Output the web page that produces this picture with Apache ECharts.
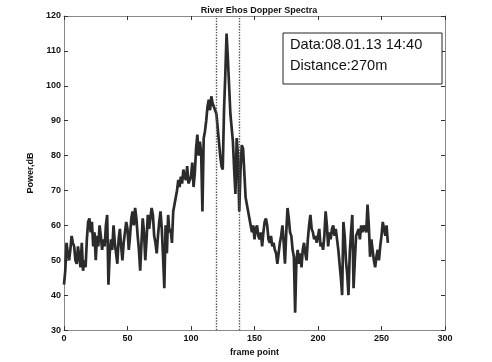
<!DOCTYPE html>
<html>
<head>
<meta charset="utf-8">
<script src="https://cdn.jsdelivr.net/npm/echarts@6/dist/echarts.min.js"></script>
<style>html,body{margin:0;padding:0;background:#fff}#c{width:492px;height:362px}</style>
</head>
<body>
<div id="c"></div>
<script>
// Power (dB) for frame points 0..255
const power = [
  43, 47, 55, 52, 50, 53, 57, 55, 54, 50,
  49, 54, 51, 48, 55, 47, 50, 48, 56, 61,
  62, 58, 61, 54, 58, 50, 57, 54, 60, 57,
  53, 56, 54, 60, 63, 43, 52, 56, 53, 60,
  55, 52, 49, 56, 59, 54, 50, 55, 58, 61,
  59, 53, 57, 62, 64, 60, 65, 62, 57, 53,
  47, 55, 62, 58, 50, 56, 63, 59, 62, 65,
  63, 57, 55, 52, 57, 61, 64, 59, 51, 42,
  60, 52, 63, 58, 59, 55, 64, 66, 68, 70,
  73, 71, 74, 72, 76, 74, 73, 77, 72, 73,
  74, 78, 71, 75, 82, 86, 80, 84, 81, 64,
  85, 87, 90, 94, 96, 93, 97, 95, 94, 93,
  92, 88, 84, 80, 77, 76, 93, 103, 115, 108,
  100, 92, 88, 84, 76, 69, 85, 80, 64, 76,
  83, 82, 75, 68, 66, 64, 62, 60, 58, 60,
  56, 59, 60, 57, 56, 58, 54, 58, 61, 62,
  60, 56, 55, 57, 54, 55, 53, 52, 49, 52,
  55, 57, 60, 55, 49, 58, 65, 62, 58, 57,
  53, 51, 35, 50, 53, 49, 52, 48, 53, 55,
  52, 50, 56, 60, 63, 59, 58, 56, 57, 55,
  57, 59, 54, 55, 53, 57, 64, 60, 54, 58,
  56, 59, 60, 57, 59, 56, 53, 49, 45, 40,
  61, 57, 50, 46, 40, 52, 58, 63, 42, 50,
  57, 58, 59, 56, 60, 58, 60, 59, 58, 66,
  60, 51, 56, 53, 50, 48, 51, 53, 50, 54,
  57, 61, 59, 57, 60, 55
];
const markerPositions = [120, 138];
const titleText = 'River Ehos Dopper Spectra';
const xName = 'frame point';
const yName = 'Power,dB';
const infoLines = ['Data:08.01.13 14:40', 'Distance:270m'];

const seriesData = power.map((v, i) => [i, v]);
const lblFont = { fontFamily: 'Liberation Sans, Arial', fontWeight: 'bold', fontSize: 9, color: '#111' };

const chart = echarts.init(document.getElementById('c'), null, { renderer: 'canvas' });
const axisCommon = {
  axisLine: { show: true, onZero: false, lineStyle: { color: '#888', width: 1 } },
  axisTick: { show: true, inside: true, length: 4, lineStyle: { color: '#333' } },
  splitLine: { show: false }
};
chart.setOption({
  animation: false,
  backgroundColor: '#fff',
  title: {
    text: titleText, left: 254, top: 1, textAlign: 'center',
    textStyle: { fontFamily: 'Liberation Sans, Arial', fontWeight: 'bold', fontSize: 9, color: '#111' }
  },
  grid: { left: 64, right: 47, top: 16, bottom: 28 },
  xAxis: [
    Object.assign({ type: 'value', min: 0, max: 300, interval: 50, position: 'bottom',
      name: xName, nameLocation: 'middle', nameGap: 16,
      nameTextStyle: lblFont,
      axisLabel: Object.assign({ margin: 4 }, lblFont) }, axisCommon),
    Object.assign({ type: 'value', min: 0, max: 300, interval: 50, position: 'top',
      axisLabel: { show: false } }, axisCommon)
  ],
  yAxis: [
    Object.assign({ type: 'value', min: 30, max: 120, interval: 10, position: 'left',
      name: yName, nameLocation: 'middle', nameGap: 21, nameRotate: 90,
      nameTextStyle: lblFont,
      axisLabel: Object.assign({ margin: 3 }, lblFont) }, axisCommon),
    Object.assign({ type: 'value', min: 30, max: 120, interval: 10, position: 'right',
      axisLabel: { show: false } }, axisCommon)
  ],
  series: [{
    type: 'line',
    data: seriesData,
    xAxisIndex: 0, yAxisIndex: 0,
    showSymbol: false,
    lineStyle: { color: '#2b2b2b', width: 2.7 },
    markLine: {
      silent: true, symbol: ['none', 'none'], label: { show: false },
      emphasis: { disabled: true },
      lineStyle: { color: '#555', type: 'dotted', width: 1.4 },
      data: markerPositions.map(p => ({ xAxis: p, lineStyle: { color: '#555', type: 'dotted', width: 1.4 } }))
    }
  }],
  graphic: [
    { type: 'rect', shape: { x: 283, y: 33, width: 159, height: 51 },
      style: { fill: '#fff', stroke: '#222', lineWidth: 1 }, z: 100 },
    { type: 'text', x: 290, y: 37, z: 101,
      style: { text: infoLines[0], font: '14.6px "Liberation Sans", Arial', fill: '#111' } },
    { type: 'text', x: 290, y: 58, z: 101,
      style: { text: infoLines[1], font: '14.6px "Liberation Sans", Arial', fill: '#111' } }
  ]
});
</script>
</body>
</html>
